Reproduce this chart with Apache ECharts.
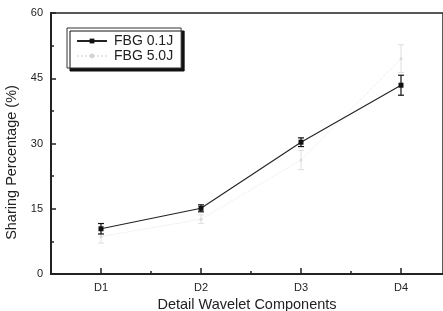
<!DOCTYPE html>
<html>
<head>
<meta charset="utf-8">
<script src="https://cdn.jsdelivr.net/npm/echarts@6/dist/echarts.min.js"></script>
<style>
  html, body { margin: 0; padding: 0; background: #fff; }
  #chart { width: 443px; height: 311px; }
</style>
</head>
<body>
<div id="chart"></div>
<script>
// wavelet components (x positions 1..4)
const categories = ['D1', 'D2', 'D3', 'D4']
const xPos = [1, 2, 3, 4]
// FBG 0.1J mean and error
const fbg01 = [10.4, 15.1, 30.3, 43.4]
const fbg01Err = [1.2, 0.8, 1.0, 2.3]
// FBG 5.0J mean and error (faint gray in the picture)
const fbg50 = [8.6, 12.6, 26.2, 49.5]
const fbg50Err = [1.5, 1.0, 2.2, 3.2]
const yTicks = [0, 15, 30, 45, 60]

let ch = echarts.init(document.getElementById('chart'))

function errorBars(means, errs, color, lw) {
  return {
    type: 'custom',
    silent: true,
    z: 3,
    data: xPos.map((x, i) => [x, means[i] - errs[i], means[i] + errs[i]]),
    renderItem: function (params, api) {
      let lo = api.coord([api.value(0), api.value(1)])
      let hi = api.coord([api.value(0), api.value(2)])
      let w = 3
      let st = { stroke: color, lineWidth: lw }
      return {
        type: 'group',
        children: [
          { type: 'line', shape: { x1: lo[0], y1: lo[1], x2: hi[0], y2: hi[1] }, style: st },
          { type: 'line', shape: { x1: lo[0] - w, y1: lo[1], x2: lo[0] + w, y2: lo[1] }, style: st },
          { type: 'line', shape: { x1: hi[0] - w, y1: hi[1], x2: hi[0] + w, y2: hi[1] }, style: st }
        ]
      }
    }
  }
}

let font = 'Liberation Sans, Arial, sans-serif'

let option = {
  animation: false,
  textStyle: { fontFamily: font },
  grid: {
    left: 51,
    top: 13,
    right: 0,
    bottom: 37,
    outerBoundsMode: 'none',
    show: true,
    borderColor: '#222',
    borderWidth: 1.5
  },
  legend: {
    left: 67,
    top: 28,
    orient: 'vertical',
    itemWidth: 30,
    itemHeight: 6,
    itemGap: 1,
    padding: [6, 8, 5, 9],
    backgroundColor: '#fff',
    borderColor: '#333',
    borderWidth: 1,
    shadowColor: '#111',
    shadowOffsetX: 3,
    shadowOffsetY: 3,
    shadowBlur: 0,
    textStyle: { fontFamily: font, fontSize: 14, color: '#222', padding: [0, 0, 0, 2] },
    data: ['FBG 0.1J', 'FBG 5.0J']
  },
  xAxis: [{
    type: 'value',
    min: 0.5,
    max: 4.42,
    name: 'Detail Wavelet Components',
    nameLocation: 'middle',
    nameGap: 20,
    nameTextStyle: { fontFamily: font, fontSize: 14.5, color: '#222' },
    axisLine: { lineStyle: { color: '#222', width: 2 } },
    axisTick: { inside: true, length: 6, customValues: xPos, lineStyle: { color: '#222', width: 1.5 } },
    axisLabel: {
      customValues: xPos,
      margin: 8,
      fontSize: 11,
      color: '#222',
      formatter: v => categories[Math.round(v) - 1]
    },
    splitLine: { show: false }
  }, {
    type: 'value',
    position: 'bottom',
    min: 0.5,
    max: 4.42,
    axisLine: { show: false },
    axisTick: { inside: true, length: 3, customValues: [1.5, 2.5, 3.5], lineStyle: { color: '#222', width: 1.5 } },
    axisLabel: { show: false },
    splitLine: { show: false }
  }],
  yAxis: {
    type: 'value',
    min: 0,
    max: 60,
    interval: 15,
    name: 'Sharing Percentage (%)',
    nameLocation: 'middle',
    nameGap: 30,
    nameTextStyle: { fontFamily: font, fontSize: 14.5, color: '#222', padding: [0, 38, 0, 0] },
    axisLine: { show: true, lineStyle: { color: '#222', width: 2 } },
    axisTick: { show: true, inside: true, length: 5, lineStyle: { color: '#222', width: 1.5 } },
    minorTick: { show: true, splitNumber: 2, length: 3, lineStyle: { color: '#222', width: 1.5 } },
    axisLabel: {
      margin: 8,
      fontSize: 11,
      color: '#222',
      formatter: v => (yTicks.indexOf(v) >= 0 ? String(v) : '')
    },
    splitLine: { show: false }
  },
  series: [
    {
      name: 'FBG 5.0J',
      type: 'line',
      z: 2,
      data: xPos.map((x, i) => [x, fbg50[i]]),
      symbol: 'circle',
      symbolSize: 3,
      itemStyle: { color: '#d4d4d4' },
      lineStyle: { color: '#e6e6e6', width: 1, type: 'dotted' }
    },
    errorBars(fbg50, fbg50Err, '#dedede', 1),
    {
      name: 'FBG 0.1J',
      type: 'line',
      z: 4,
      data: xPos.map((x, i) => [x, fbg01[i]]),
      symbol: 'rect',
      symbolSize: 5,
      itemStyle: { color: '#111' },
      lineStyle: { color: '#222', width: 1.1 }
    },
    errorBars(fbg01, fbg01Err, '#111', 1.2)
  ]
}
ch.setOption(option)
</script>
</body>
</html>
